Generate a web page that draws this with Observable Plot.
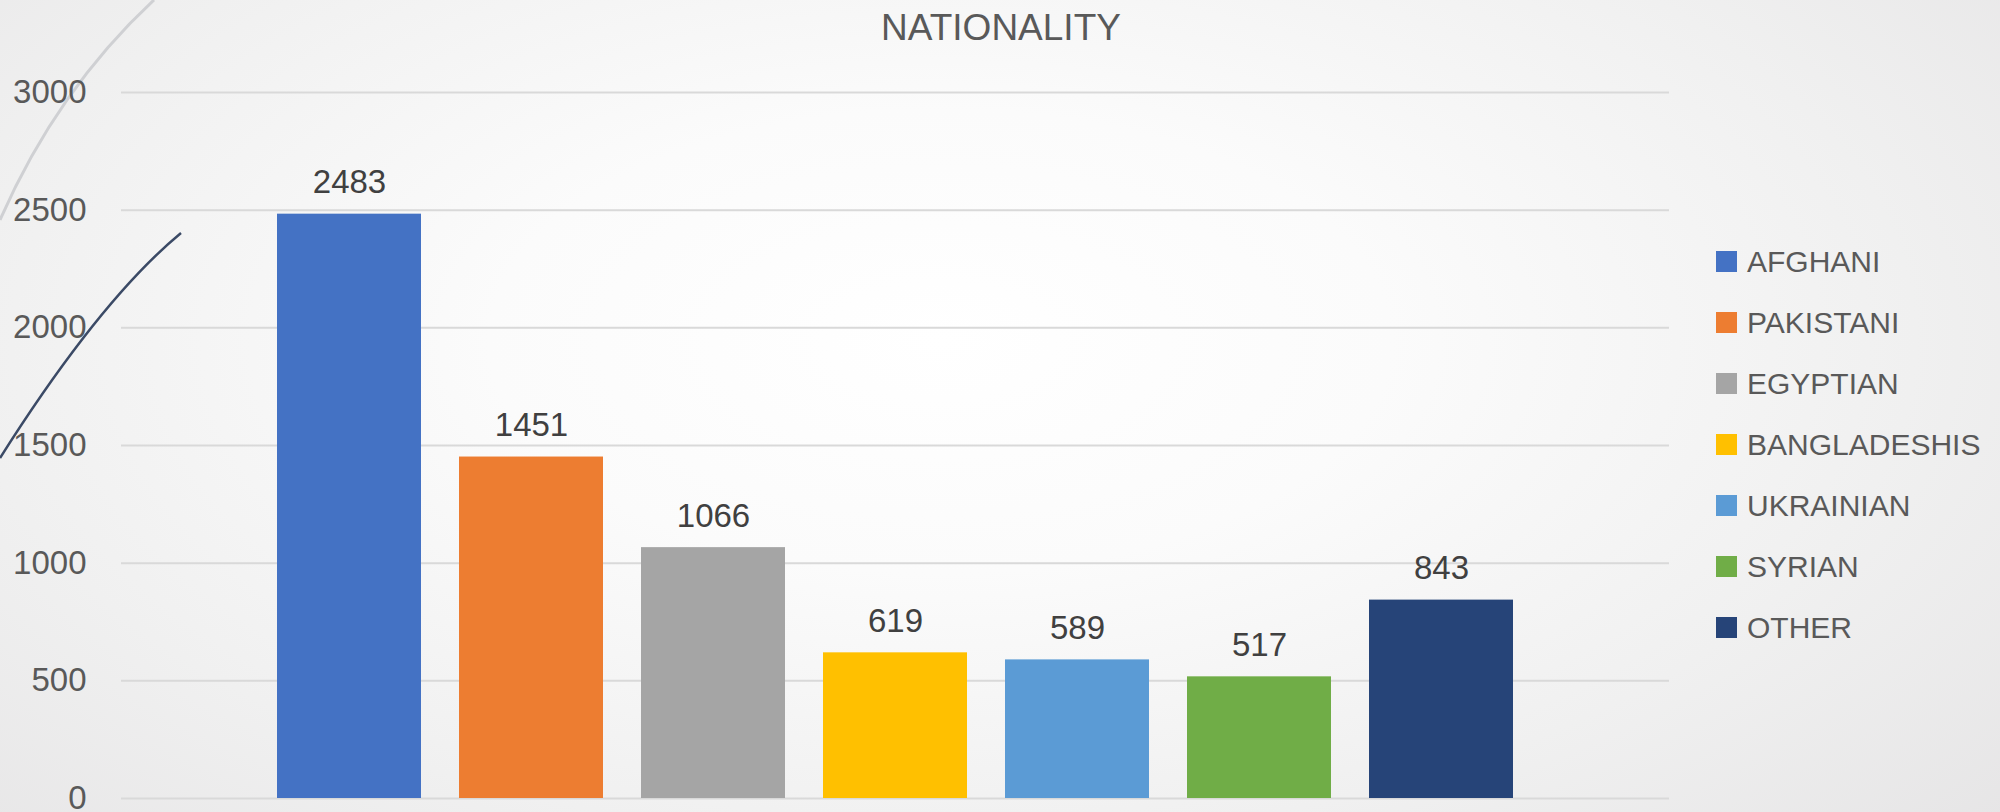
<!DOCTYPE html>
<html>
<head>
<meta charset="utf-8">
<script src="https://cdn.jsdelivr.net/npm/d3@7"></script>
<script src="https://cdn.jsdelivr.net/npm/@observablehq/plot@0.6"></script>
<style>
  html, body { margin: 0; padding: 0; }
  #wrap {
    position: relative; width: 2000px; height: 812px; overflow: hidden;
    background: radial-gradient(ellipse 75% 95% at 47% 42%, #ffffff 0%, #fbfbfb 30%, #f0f0f0 65%, #e4e3e4 100%);
    font-family: "Liberation Sans", Arial, sans-serif;
  }
  #deco { position: absolute; left: 0; top: 0; }
  #chart { position: absolute; left: 0; top: 0; }
  #title {
    position: absolute; left: 0; width: 2002px; top: 6px; text-align: center;
    font-size: 37px; color: #595959; line-height: 44px;
  }
  #legend { position: absolute; left: 1716px; top: 231px; }
  .row { display: flex; align-items: center; height: 61px; }
  .sw { width: 21px; height: 21px; margin-right: 10px; flex: none; }
  .lab { font-size: 30px; color: #595959; line-height: 30px; }
</style>
</head>
<body>
<div id="wrap">
  <svg id="deco" width="2000" height="812">
    <path d="M154,0 Q57,90 0,220" fill="none" stroke="#cfd0d3" stroke-width="3"/>
    <path d="M181,233 Q100,300 0,458" fill="none" stroke="#3b4a66" stroke-width="2.5"/>
  </svg>
  <div id="chart"></div>
  <div id="title"></div>
  <div id="legend"></div>
</div>
<script>
const titleText = "NATIONALITY";
const categories = ["AFGHANI", "PAKISTANI", "EGYPTIAN", "BANGLADESHIS", "UKRAINIAN", "SYRIAN", "OTHER"];
const values = [2483, 1451, 1066, 619, 589, 517, 843];
const colors = ["#4472c4", "#ed7d31", "#a5a5a5", "#ffc000", "#5b9bd5", "#70ad47", "#264478"];
const yTicks = [0, 500, 1000, 1500, 2000, 2500, 3000];

const data = categories.map((c, i) => ({nationality: c, count: values[i]}));

const plot = Plot.plot({
  width: 2000,
  height: 812,
  marginLeft: 121,
  marginRight: 331,
  marginTop: 92,
  marginBottom: 14,
  style: {background: "transparent", fontFamily: "'Liberation Sans', Arial, sans-serif", overflow: "visible"},
  x: {domain: categories, axis: null, paddingInner: 0.209, paddingOuter: 0.857},
  y: {domain: [0, 3000], ticks: yTicks, label: null},
  color: {domain: categories, range: colors},
  marks: [
    Plot.gridY(yTicks, {stroke: "#d9d9d9", strokeOpacity: 1, strokeWidth: 2}),
    Plot.axisY(yTicks, {tickSize: 0, tickPadding: 35, fontSize: 33, fill: "#595959", label: null, tickFormat: d => String(d)}),
    Plot.barY(data, {x: "nationality", y: "count", fill: "nationality"}),
    Plot.text(data, {x: "nationality", y: "count", text: d => String(d.count), lineAnchor: "bottom", dy: -21, fontSize: 33, fill: "#404040"})
  ]
});
document.getElementById("chart").appendChild(plot);

document.getElementById("title").textContent = titleText;
const legend = document.getElementById("legend");
categories.forEach((c, i) => {
  const row = document.createElement("div");
  row.className = "row";
  const sw = document.createElement("div");
  sw.className = "sw";
  sw.style.background = colors[i];
  const lab = document.createElement("div");
  lab.className = "lab";
  lab.textContent = c;
  row.appendChild(sw);
  row.appendChild(lab);
  legend.appendChild(row);
});
</script>
</body>
</html>
